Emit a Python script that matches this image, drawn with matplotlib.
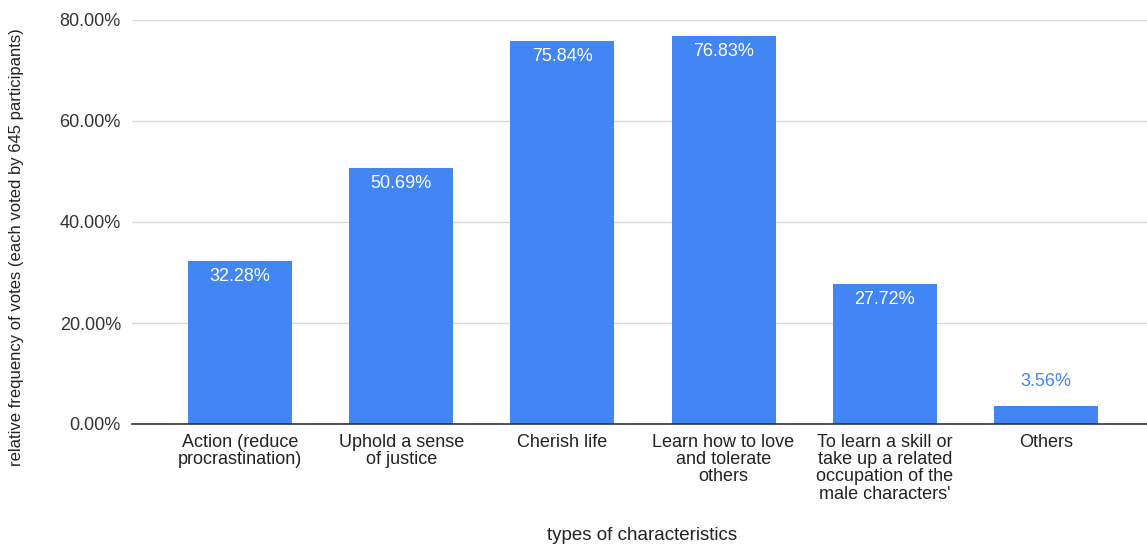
import matplotlib
matplotlib.use("Agg")
import matplotlib.pyplot as plt
from matplotlib.ticker import FuncFormatter

# ── Data ──────────────────────────────────────────────────────────────────────
categories = [
    "Action (reduce\nprocrastination)",
    "Uphold a sense\nof justice",
    "Cherish life",
    "Learn how to love\nand tolerate\nothers",
    "To learn a skill or\ntake up a related\noccupation of the\nmale characters'",
    "Others",
]
values = [32.28, 50.69, 75.84, 76.83, 27.72, 3.56]
y_ticks = [0, 20, 40, 60, 80]

BAR = "#4285F4"
plt.rcParams["font.family"] = ["Liberation Sans", "DejaVu Sans"]

fig = plt.figure(figsize=(11.47, 5.47), dpi=100)
ax = fig.add_axes([132 / 1147, 123 / 547, 1 - 132 / 1147, 404 / 547])

x = list(range(len(categories)))
ax.bar(x, values, width=0.645, color=BAR, zorder=3)

# value labels: inside the bar top, or above it when the bar is too short
for xi, v in zip(x, values):
    if v > 10:
        ax.annotate(f"{v:.2f}%", (xi, v), xytext=(0, -11), textcoords="offset points",
                    ha="center", va="center", color="white", fontsize=13, zorder=4)
    else:
        ax.annotate(f"{v:.2f}%", (xi, v), xytext=(0, 18), textcoords="offset points",
                    ha="center", va="center", color=BAR, fontsize=13, zorder=4)

ax.set_xlim(-0.67, 5.627)
ax.set_ylim(0, 80)
ax.set_yticks(y_ticks)
ax.yaxis.set_major_formatter(FuncFormatter(lambda v, _: f"{v:.2f}%"))
ax.set_xticks(x)
ax.set_xticklabels(categories, fontsize=13, color="#222222", linespacing=1.02)
ax.tick_params(axis="y", labelsize=13, labelcolor="#333333", length=0, pad=8)
ax.tick_params(axis="x", length=0, pad=7)

ax.grid(axis="y", color="#d9d9d9", linewidth=1, zorder=0)
for s in ["top", "right", "left"]:
    ax.spines[s].set_visible(False)
ax.spines["bottom"].set_color("#333333")
ax.spines["bottom"].set_linewidth(1.2)
ax.spines["bottom"].set_zorder(5)

fig.text(642 / 1147, 1 - 536 / 547, "types of characteristics", ha="center", va="center",
         fontsize=13.5, color="#222222")
fig.text(17 / 1147, 1 - 247 / 547, "relative frequency of votes (each voted by 645 participants)",
         ha="center", va="center", rotation=90, fontsize=12, color="#222222")

fig.savefig("out.png", dpi=100)
